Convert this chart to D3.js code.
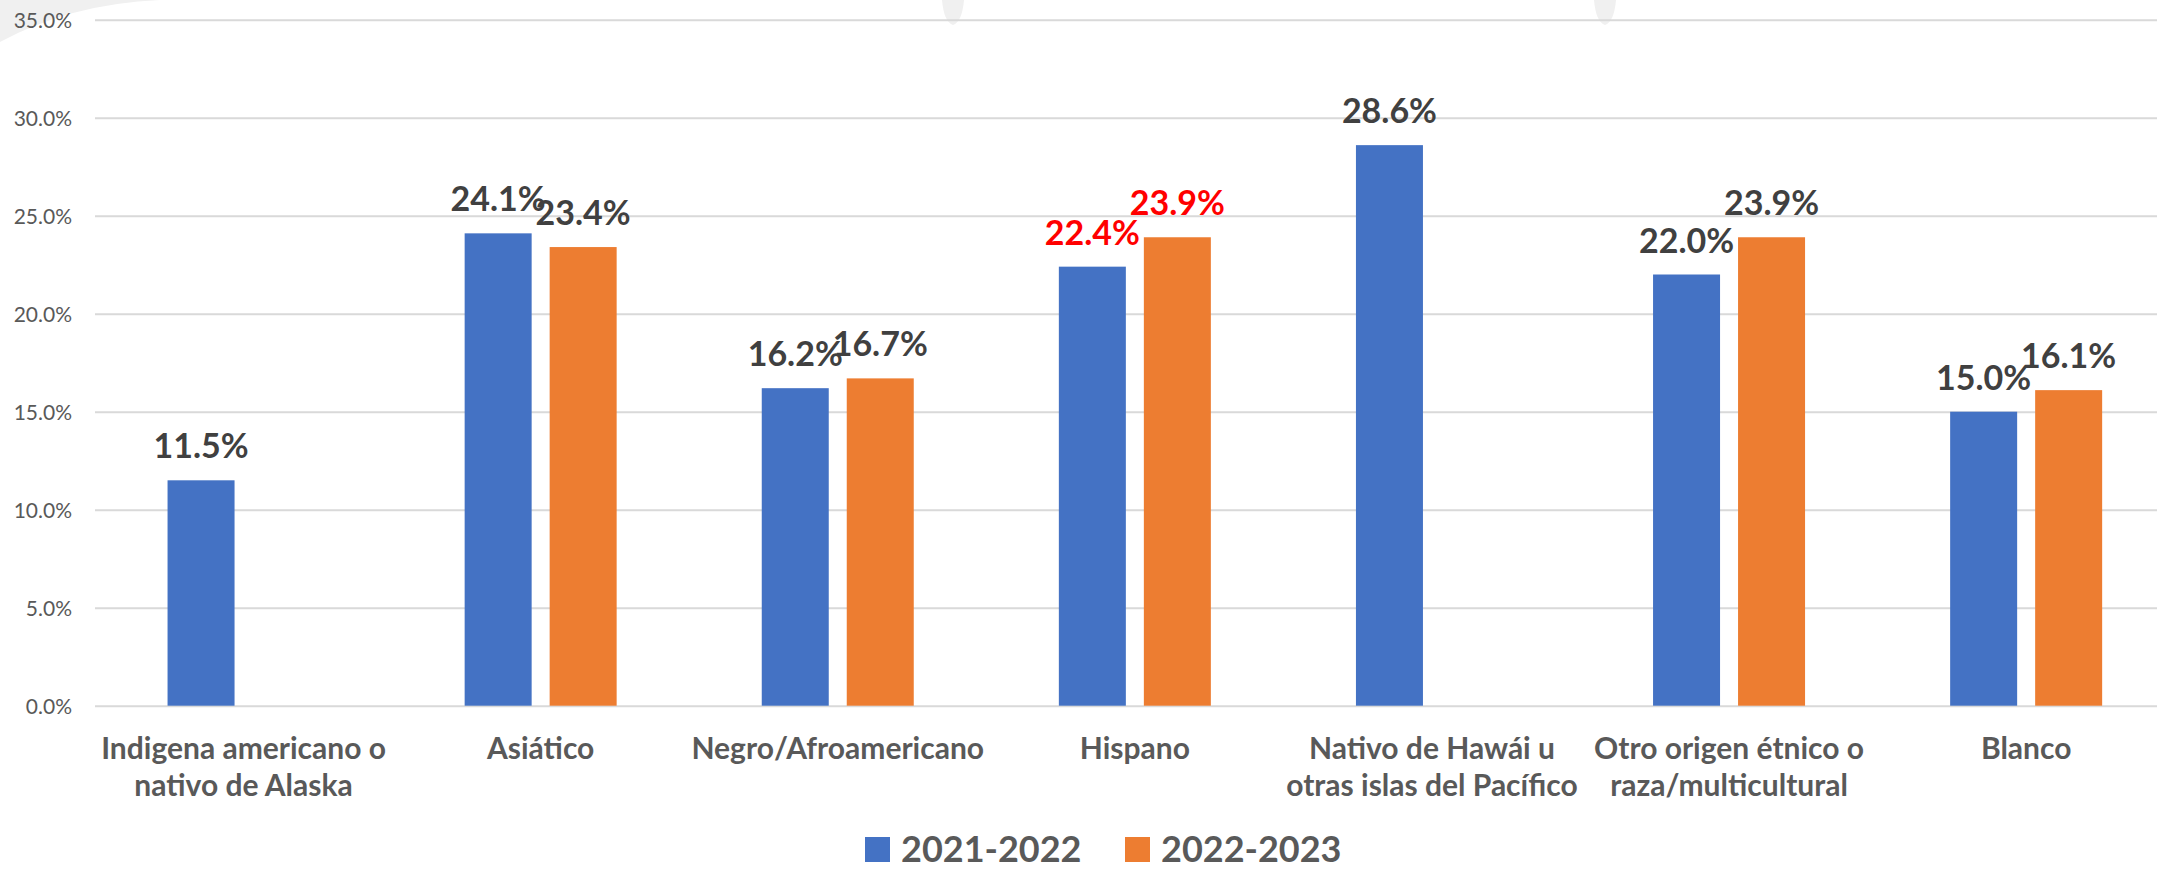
<!DOCTYPE html>
<html>
<head>
<meta charset="utf-8">
<script src="https://cdn.jsdelivr.net/npm/d3@7"></script>
<style>
  html, body { margin: 0; padding: 0; background: #fff; }
  svg { display: block; }
</style>
</head>
<body>
<svg id="chart" width="2157" height="872"></svg>
<script>
// data
const categories = [
  ['Indigena americano o', 'nativo de Alaska'],
  ['Asiático'],
  ['Negro/Afroamericano'],
  ['Hispano'],
  ['Nativo de Hawái u', 'otras islas del Pacífico'],
  ['Otro origen étnico o', 'raza/multicultural'],
  ['Blanco']
];
const seriesNames = ['2021-2022', '2022-2023'];
const values2122 = [11.5, 24.1, 16.2, 22.4, 28.6, 22.0, 15.0];
const values2223 = [null, 23.4, 16.7, 23.9, null, 23.9, 16.1];
const highlighted = ['Hispano']; // labels drawn in red
const yTicks = [0, 5, 10, 15, 20, 25, 30, 35];
const colors = ['#4472C4', '#ED7D31'];

const width = 2157;
const height = 872;
const margin = { top: 19.7, left: 95, bottom: 166.3 };
const bandWidth = 297.1;

const svg = d3.select('#chart');

// faint background shapes at the top edge
svg.append('path')
  .attr('d', 'M0,0 L160,0 Q70,4 0,42 Z')
  .attr('fill', '#f0f0f0');
svg.append('path')
  .attr('d', 'M942,0 L964,0 Q962,22 953,25 Q944,22 942,0 Z')
  .attr('fill', '#f0f0f0');
svg.append('path')
  .attr('d', 'M1594,0 L1616,0 Q1614,22 1605,25 Q1596,22 1594,0 Z')
  .attr('fill', '#f0f0f0');

const keys = categories.map(c => c.join(' '));

const x = d3.scaleBand()
  .domain(keys)
  .range([margin.left, margin.left + bandWidth * keys.length])
  .padding(0);

const xSeries = d3.scaleBand()
  .domain(seriesNames)
  .range([0, x.bandwidth()])
  .paddingInner(0.2118)
  .paddingOuter(0.8535);

const y = d3.scaleLinear()
  .domain([0, 35])
  .range([height - margin.bottom, margin.top]);

// gridlines + tick labels
const yAxis = svg.append('g')
  .attr('transform', `translate(${margin.left},0)`)
  .call(d3.axisLeft(y).tickValues(yTicks).tickSize(-(width - margin.left)).tickFormat(d => d.toFixed(1) + '%'));
yAxis.select('.domain').remove();
yAxis.selectAll('.tick line').attr('stroke', '#d9d9d9').attr('stroke-width', 2);
yAxis.selectAll('.tick text')
  .attr('x', -23)
  .attr('dy', '0.36em')
  .attr('fill', '#595959')
  .attr('font-family', 'Lato')
  .attr('font-size', '21px');

// bars
const rows = keys.map((k, i) => ({ key: k, vals: [values2122[i], values2223[i]] }));

const groups = svg.append('g').selectAll('g')
  .data(rows)
  .join('g')
  .attr('transform', d => `translate(${x(d.key)},0)`);

const cells = groups.selectAll('g')
  .data(d => d.vals.map((v, j) => ({ key: d.key, series: seriesNames[j], j, v })).filter(c => c.v !== null))
  .join('g');

cells.append('rect')
  .attr('x', d => xSeries(d.series))
  .attr('width', xSeries.bandwidth())
  .attr('y', d => y(d.v))
  .attr('height', d => y(0) - y(d.v))
  .attr('fill', d => colors[d.j]);

cells.append('text')
  .attr('x', d => xSeries(d.series) + xSeries.bandwidth() / 2)
  .attr('y', d => y(d.v) - 22)
  .attr('text-anchor', 'middle')
  .attr('font-family', 'Lato')
  .attr('font-weight', 'bold')
  .attr('font-size', '34px')
  .attr('fill', d => highlighted.includes(d.key) ? '#FF0000' : '#404040')
  .text(d => d.v.toFixed(1) + '%');

// category labels
const catLabels = svg.append('g').selectAll('text')
  .data(categories)
  .join('text')
  .attr('x', (d, i) => x(keys[i]) + x.bandwidth() / 2)
  .attr('y', 759)
  .attr('text-anchor', 'middle')
  .attr('font-family', 'Lato')
  .attr('font-weight', 'bold')
  .attr('font-size', '30px')
  .attr('fill', '#595959');

catLabels.selectAll('tspan')
  .data(d => d)
  .join('tspan')
  .attr('x', function () { return d3.select(this.parentNode).attr('x'); })
  .attr('dy', (d, i) => i === 0 ? 0 : 37)
  .text(d => d);

// legend
const legendX = [865, 1125];
const legend = svg.append('g').selectAll('g')
  .data(seriesNames)
  .join('g')
  .attr('transform', (d, i) => `translate(${legendX[i]},837)`);

legend.append('rect')
  .attr('width', 25)
  .attr('height', 25)
  .attr('fill', (d, i) => colors[i]);

legend.append('text')
  .attr('x', 36)
  .attr('y', 25)
  .attr('font-family', 'Lato')
  .attr('font-weight', 'bold')
  .attr('font-size', '36px')
  .attr('fill', '#595959')
  .text(d => d);
</script>
</body>
</html>
